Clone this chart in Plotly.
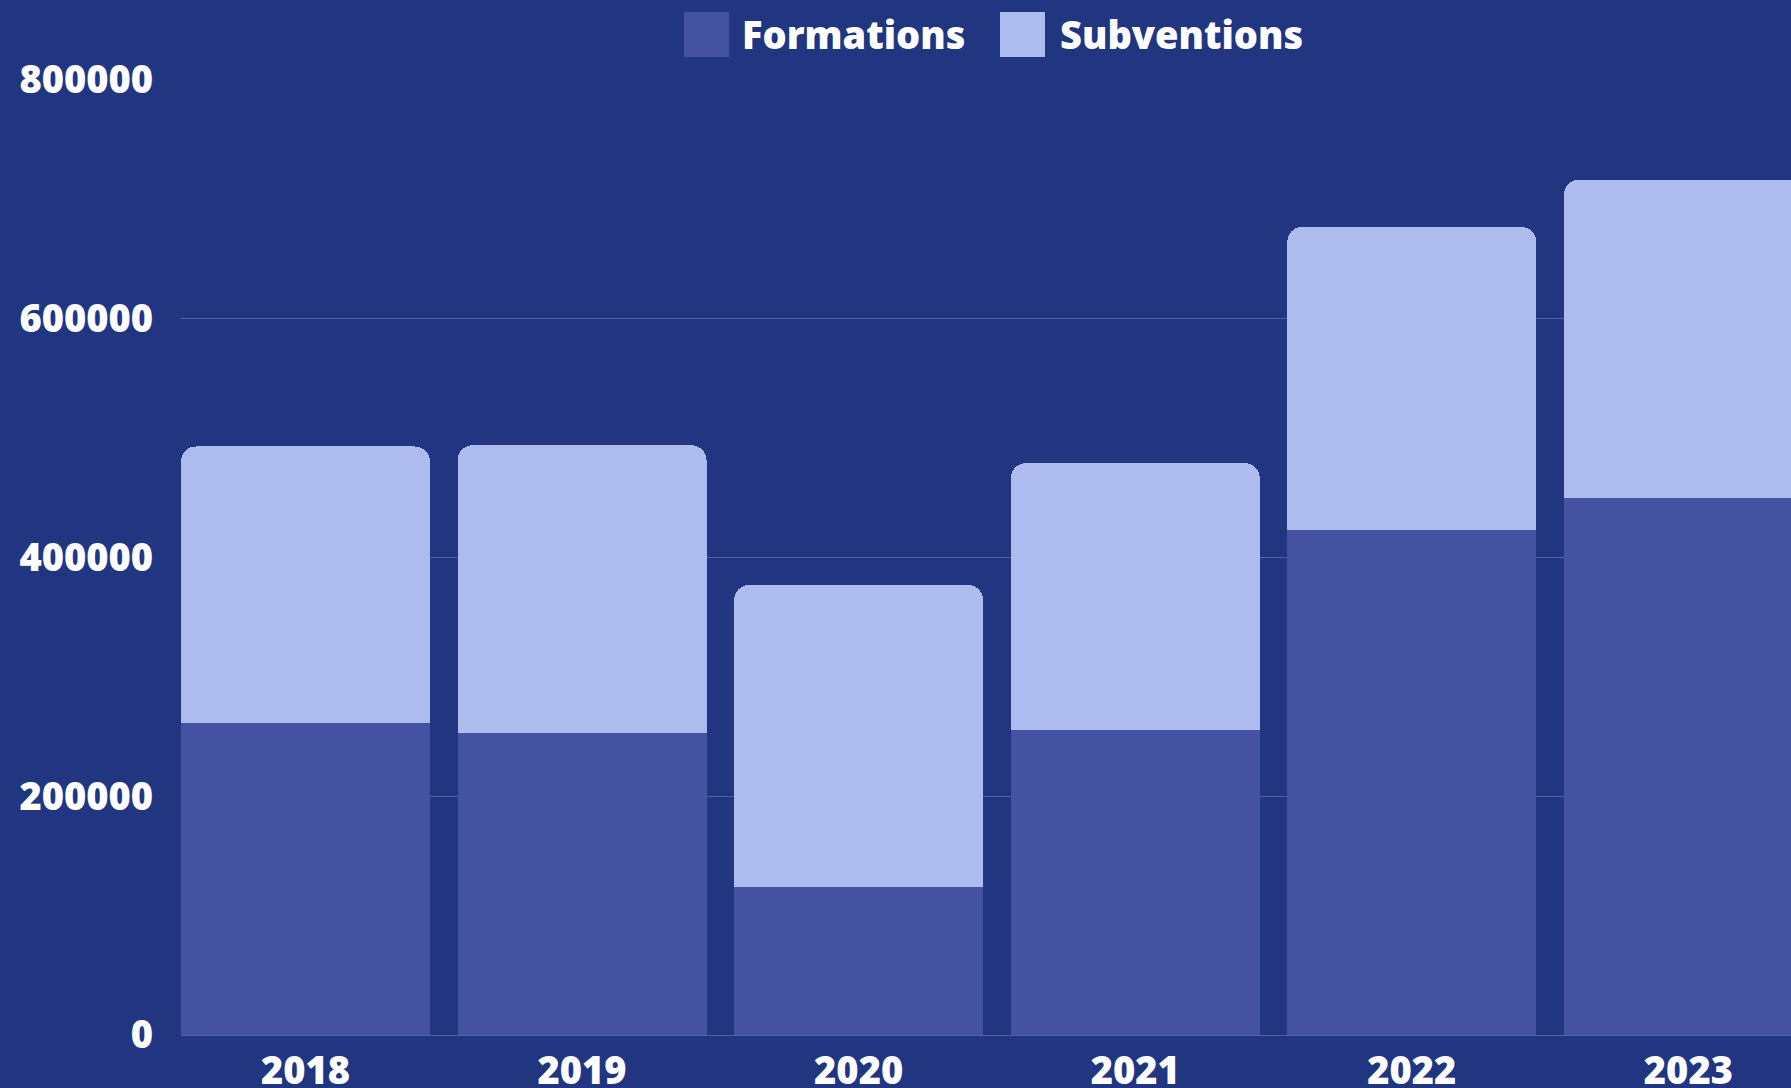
import plotly.graph_objects as go

# Données
annees = ["2018", "2019", "2020", "2021", "2022", "2023"]
formations = [261000, 253000, 124000, 255500, 423000, 450000]
subventions = [232000, 241000, 253000, 223500, 254000, 266500]

series = ["Formations", "Subventions"]
couleurs = ["#4552A1", "#AEBBEF"]

fond = "#213580"
grille = "#52629F"
police = dict(family="Open Sans", size=38, color="white", weight=800)

W, H = 1791, 1088
marge = dict(l=181, r=0, t=80, b=53)

fig = go.Figure()
for nom, valeurs, couleur in zip(series, [formations, subventions], couleurs):
    fig.add_trace(go.Bar(
        x=annees,
        y=valeurs,
        name=nom,
        marker=dict(color=couleur, line=dict(width=0), cornerradius=15),
        showlegend=False,
    ))

# Légende faite à la main (grands carrés de couleur)
larg_plot = W - marge["l"] - marge["r"]
haut_plot = H - marge["t"] - marge["b"]

def px_x(p):
    return (p - marge["l"]) / larg_plot

def px_y(p):
    return (H - marge["b"] - p) / haut_plot

legende = [(684, 740), (1000, 1058)]
for (x_carre, x_texte), nom, couleur in zip(legende, series, couleurs):
    fig.add_shape(
        type="rect", xref="paper", yref="paper",
        x0=px_x(x_carre), x1=px_x(x_carre + 45),
        y0=px_y(57), y1=px_y(12),
        fillcolor=couleur, line=dict(width=0), layer="above",
    )
    fig.add_annotation(
        text=nom, xref="paper", yref="paper",
        x=px_x(x_texte), y=px_y(34),
        xanchor="left", yanchor="middle",
        showarrow=False, font=police,
    )

fig.update_layout(
    width=W,
    height=H,
    autosize=False,
    paper_bgcolor=fond,
    plot_bgcolor=fond,
    barmode="stack",
    bargap=0.1,
    margin=marge,
    xaxis=dict(
        type="category",
        range=[-0.45, 5.371],
        tickfont=police,
        showgrid=False,
        showline=False,
        ticks="",
        ticklabelstandoff=10,
        automargin=False,
    ),
    yaxis=dict(
        range=[0, 800000],
        dtick=200000,
        tickformat="d",
        tickfont=police,
        showgrid=True,
        gridcolor=grille,
        gridwidth=1,
        zeroline=True,
        zerolinecolor=grille,
        zerolinewidth=1,
        ticks="",
        ticklabelstandoff=27,
        automargin=False,
    ),
)

fig.write_html(
    "out.html",
    config=dict(displayModeBar=False),
    post_script="document.body.style.margin='0';",
)
